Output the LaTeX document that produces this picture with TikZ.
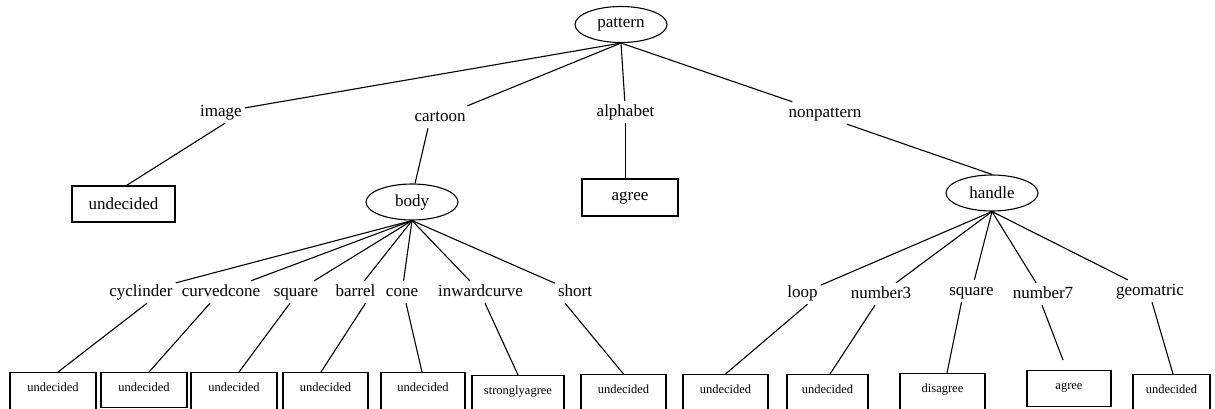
\documentclass[tikz,border=0pt]{standalone}
\usepackage{fontspec}
\setmainfont{Liberation Serif}
\usepackage{tikz}
\usetikzlibrary{shapes, arrows}
\tikzstyle{root} = [ellipse, draw, line width=1.1pt, minimum width=92pt,
    minimum height=36pt, inner sep=0pt, font=\fontsize{17}{20}\selectfont]
\tikzstyle{attr} = [inner sep=3pt, text height=12pt, text depth=4pt,
    font=\fontsize{17}{20}\selectfont]
\tikzstyle{result} = [rectangle, draw, line width=1.1pt, minimum height=36pt,
    inner sep=0pt, font=\fontsize{17}{20}\selectfont]
\tikzstyle{leaf} = [rectangle, draw, line width=1.1pt, anchor=north, inner sep=0pt,
    text height=18.5pt, text depth=22pt, font=\fontsize{12.5}{14}\selectfont]
\tikzstyle{line} = [draw, line width=1.1pt]

\begin{document}
\begin{tikzpicture}[x=1pt, y=-1pt]
        \clip (0,0) rectangle (1215,408);
        \fill [white] (0,0) rectangle (1215,408);
        % Place nodes
        \node [root] (pattern) at (621,24.5) {pattern};
        \node [attr] (image) at (221,112) {image};
        \node [attr] (cartoon) at (440,117) {cartoon};
        \node [attr] (alphabet) at (625.5,112) {alphabet};
        \node [attr] (nonpattern) at (825,113) {nonpattern};
        \node [result, minimum width=103pt] (imageres) at (123.5,204) {undecided};
        \node [root] (body) at (412,202) {body};
        \node [result, minimum width=96pt, minimum height=37pt] (alphabetres) at (630,197.5) {agree};
        \node [root] (handle) at (992,193) {handle};
        % Body attributes
        \node [attr] (cyclinder) at (141,292) {cyclinder};
        \node [attr] (curvedcone) at (221,292) {curvedcone};
        \node [attr] (bsquare) at (296,292) {square};
        \node [attr] (barrel) at (355.5,292) {barrel};
        \node [attr] (cone) at (402,292) {cone};
        \node [attr] (inwardcurve) at (480.5,292) {inwardcurve};
        \node [attr] (short) at (575,292) {short};
        % Handle attributes
        \node [attr] (loop) at (802.5,293) {loop};
        \node [attr] (number3) at (881,294) {number3};
        \node [attr] (hsquare) at (971.5,291) {square};
        \node [attr] (number7) at (1043,294) {number7};
        \node [attr] (geomatric) at (1150,291) {geomatric};
        % Leaf nodes
        \node [leaf, minimum width=86pt] (b1) at (53,372) {undecided};
        \node [leaf, minimum width=86pt, text depth=16.5pt] (b2) at (144,372) {undecided};
        \node [leaf, minimum width=86pt] (b3) at (234,372) {undecided};
        \node [leaf, minimum width=85pt] (b4) at (325.5,372) {undecided};
        \node [leaf, minimum width=84pt] (b5) at (423,372) {undecided};
        \node [leaf, minimum width=92pt] (b6) at (518,375) {stronglyagree};
        \node [leaf, minimum width=85pt] (b7) at (623.5,374) {undecided};
        \node [leaf, minimum width=85pt] (b8) at (725.5,374) {undecided};
        \node [leaf, minimum width=81pt] (b9) at (827.5,374) {undecided};
        \node [leaf, minimum width=85pt] (b10) at (942.5,373) {disagree};
        \node [leaf, minimum width=84pt, text depth=17.5pt] (b11) at (1069,370) {agree};
        \node [leaf, minimum width=77pt] (b12) at (1171.5,374) {undecided};
        % Draw edges
        \path [line] (pattern.south) -- (image);
        \path [line] (pattern.south) -- (cartoon);
        \path [line] (pattern.south) -- (alphabet);
        \path [line] (pattern.south) -- (nonpattern);
        \path [line] ([xshift=4pt]image.south) -- ([xshift=3pt]imageres.north);
        \path [line] ([xshift=-12pt]cartoon.south) -- ([xshift=3pt]body.north);
        \path [line] (alphabet.south) -- ([xshift=-4.5pt]alphabetres.north);
        \path [line] ([xshift=22pt]nonpattern.south) -- (handle.north);
        \foreach \n in {cyclinder, curvedcone, bsquare, barrel, cone, inwardcurve, short}
            \path [line] (body.south) -- (\n);
        \foreach \n in {loop, number3, hsquare, number7, geomatric}
            \path [line] (handle.south) -- (\n);
        \path [line] ([xshift=6pt]cyclinder.south) -- ([xshift=5pt]b1.north);
        \path [line] ([xshift=-11pt]curvedcone.south) -- ([xshift=5pt]b2.north);
        \path [line] ([xshift=-6pt]bsquare.south) -- ([xshift=5pt]b3.north);
        \path [line] ([xshift=10pt]barrel.south) -- ([xshift=-4.5pt]b4.north);
        \path [line] ([xshift=4pt]cone.south) -- ([xshift=-1pt]b5.north);
        \path [line] ([xshift=4.5pt]inwardcurve.south) -- (b6.north);
        \path [line] ([xshift=-10pt]short.south) -- (b7.north);
        \path [line] ([xshift=5pt]loop.south) -- (b8.north);
        \path [line] ([xshift=-6pt]number3.south) -- ([xshift=2.5pt]b9.north);
        \path [line] ([xshift=-10pt]hsquare.south) -- ([xshift=4.5pt]b10.north);
        \path [line] ([xshift=-1pt]number7.south) -- ([xshift=-6pt,yshift=10pt]b11.north);
        \path [line] ([xshift=2pt]geomatric.south) -- ([xshift=1.5pt]b12.north);
    \end{tikzpicture}
\end{document}
